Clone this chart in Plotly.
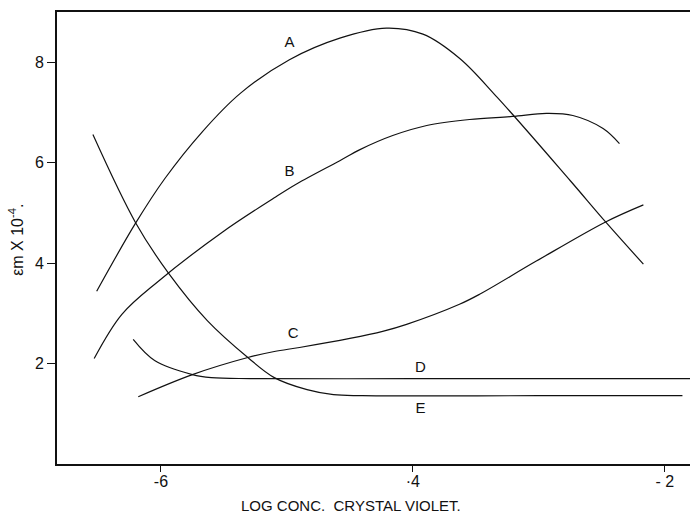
import plotly.graph_objects as go

# Curve data (log conc. crystal violet vs epsilon_m x 10^-4)
a_x = [-6.51, -6.20, -5.97, -5.67, -5.37, -4.98, -4.58, -4.21, -3.92, -3.63, -3.33, -2.75, -2.47, -2.17]
a_y = [3.44, 4.80, 5.68, 6.62, 7.38, 8.05, 8.48, 8.68, 8.56, 8.08, 7.30, 5.64, 4.82, 3.98]

b_x = [-6.53, -6.31, -6.02, -5.51, -5.10, -4.92, -4.58, -4.42, -4.16, -3.89, -3.55, -3.21, -2.94, -2.73, -2.49, -2.36]
b_y = [2.10, 2.98, 3.64, 4.62, 5.30, 5.58, 6.04, 6.26, 6.54, 6.74, 6.86, 6.92, 6.98, 6.94, 6.68, 6.38]

c_x = [-6.18, -5.75, -5.31, -5.10, -4.90, -4.50, -4.24, -4.05, -3.63, -3.47, -3.02, -2.47, -2.17]
c_y = [1.34, 1.78, 2.12, 2.24, 2.32, 2.50, 2.64, 2.78, 3.18, 3.38, 4.04, 4.82, 5.16]

d_x = [-6.22, -6.05, -5.75, -5.60, -5.29, -4.00, -3.00, -1.80]
d_y = [2.48, 2.06, 1.78, 1.72, 1.70, 1.70, 1.70, 1.70]

e_x = [-6.54, -6.20, -5.94, -5.63, -5.31, -5.10, -4.84, -4.63, -4.40, -3.00, -1.86]
e_y = [6.56, 4.80, 3.80, 2.85, 2.12, 1.72, 1.48, 1.38, 1.36, 1.36, 1.36]

label_text = ["A", "B", "C", "D", "E"]
label_x = [-4.98, -4.98, -4.95, -3.94, -3.94]
label_y = [8.38, 5.80, 2.58, 1.90, 1.10]

x_ticks = [-6, -4, -2]
x_tick_text = ["-6", "·4", "- 2"]
y_ticks = [2, 4, 6, 8]

FONT = "Liberation Sans"

fig = go.Figure()
for xs, ys in [(a_x, a_y), (b_x, b_y), (c_x, c_y), (d_x, d_y), (e_x, e_y)]:
    fig.add_trace(go.Scatter(
        x=xs, y=ys, mode="lines",
        line=dict(color="#111111", width=1.2, shape="spline", smoothing=1.0),
        showlegend=False, hoverinfo="skip"))

fig.add_trace(go.Scatter(
    x=label_x, y=label_y, mode="text", text=label_text,
    textfont=dict(family=FONT, size=15, color="#111111"),
    showlegend=False, hoverinfo="skip"))

fig.update_layout(
    width=690, height=514,
    margin=dict(l=57, r=0, t=12, b=50),
    paper_bgcolor="white", plot_bgcolor="white",
    font=dict(family=FONT, color="#111111"),
    xaxis=dict(
        range=[-6.825, -1.80], tickvals=x_ticks, ticktext=x_tick_text,
        showgrid=False, zeroline=False, showline=True, linecolor="#111111",
        linewidth=1.6, mirror=True, ticks="outside", ticklen=6,
        ticklabelstandoff=-4,
        tickcolor="#111111", tickfont=dict(family=FONT, size=16, color="#111111"),
    ),
    yaxis=dict(
        range=[0, 9.0], tickvals=y_ticks,
        showgrid=False, zeroline=False, showline=True, linecolor="#111111",
        linewidth=1.6, ticks="outside", ticklen=8,
        tickcolor="#111111", tickfont=dict(family=FONT, size=16, color="#111111"),
    ),
    annotations=[
        dict(text="LOG CONC.  CRYSTAL VIOLET.", xref="paper", yref="paper",
             x=(351 - 57) / 633, y=(464 - 505) / 452, xanchor="center", yanchor="middle",
             showarrow=False, font=dict(family=FONT, size=15, color="#111111")),
        dict(text="εm X 10<sup>-4</sup>.", xref="paper", yref="paper",
             x=-0.065, y=(464 - 240) / 452, xanchor="center", yanchor="middle",
             textangle=-90, showarrow=False,
             font=dict(family=FONT, size=16, color="#111111")),
    ],
)

fig.write_html("out.html")
